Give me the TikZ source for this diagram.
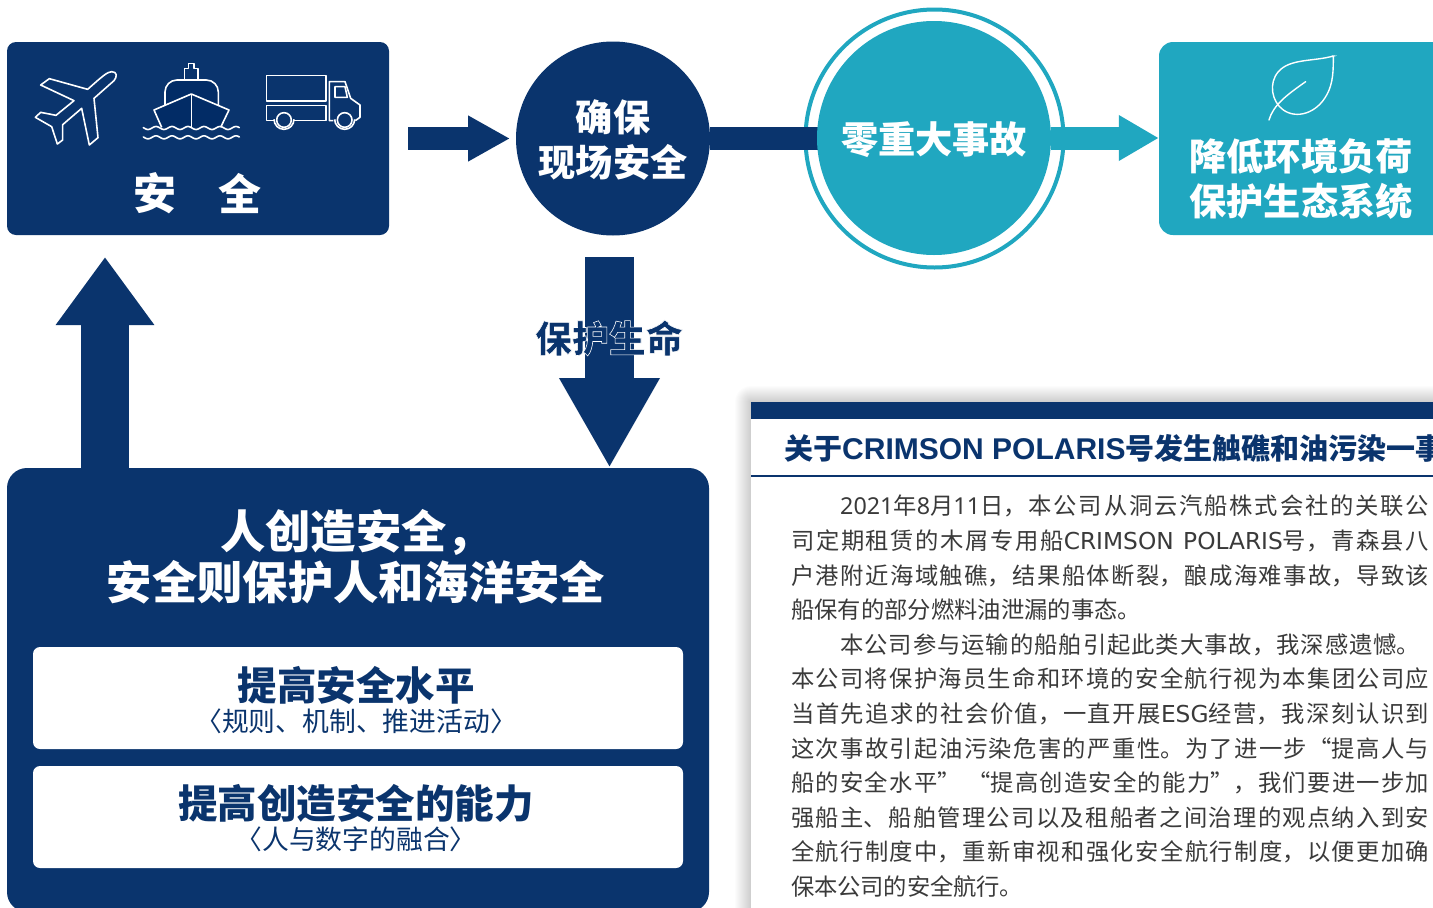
\documentclass[tikz,border=0pt]{standalone}
\usepackage{fontspec}
\setmainfont{Noto Sans CJK SC}
\newfontfamily\lat{Noto Sans}
\newfontfamily\wide{DejaVu Sans}
\newfontfamily\titlelat{Liberation Sans}
\newfontfamily\halofont{Noto Sans CJK SC}[BoldFeatures={FakeBold=1.6}]
\usetikzlibrary{arrows.meta}

\XeTeXlinebreaklocale "zh"
\XeTeXlinebreakskip=0pt plus 3pt minus 0.3pt

\definecolor{navyblue}{HTML}{0A346D}
\definecolor{darkhull}{HTML}{022C66}
\definecolor{teal}{HTML}{20A7C0}
\definecolor{bodygray}{HTML}{3A3A3A}

\newcommand{\bodyline}[2]{\parbox{#1pt}{\parfillskip=0pt #2}}

\tikzset{
    box/.style={rounded corners=#1,inner sep=0pt},
    whitebox/.style={fill=white,rounded corners=7pt,inner sep=0pt,minimum width=650,minimum height=102},
    headtext/.style={text=white,font=\bfseries\fontsize{37.2}{44.5}\selectfont,align=center,inner sep=0pt},
    bigtext/.style={font=\bfseries\fontsize{39.5}{44}\selectfont,text=navyblue,inner sep=0pt},
    subtext/.style={font=\fontsize{26.8}{30}\selectfont,text=navyblue,inner sep=0pt},
    icon/.style={draw=white,line width=1.6pt,line join=round},
}

\begin{document}
\begin{tikzpicture}[x=1pt,y=-1pt]
    \path[use as bounding box,clip] (0,0) rectangle (1433,908);
    \fill[white] (0,0) rectangle (1433,908);

    % boxes and circles
    \node[box=9pt,fill=navyblue,minimum width=382,minimum height=193] (safebox) at (198,138.5) {};
    \node[circle,fill=navyblue,minimum size=194,inner sep=0pt] (fieldcircle) at (613,138.5) {};
    \node[circle,draw=teal,line width=4pt,fill=white,minimum size=258,inner sep=0pt] (zeroring) at (934.5,138.5) {};
    \node[box=14pt,fill=teal,minimum width=300,minimum height=193] (ecobox) at (1309,138.5) {};
    \node[box=20pt,fill=navyblue,minimum width=702,minimum height=444] (peoplebox) at (358,690) {};

    \coordinate (safeout) at (408,138.5);
    \coordinate (fieldin) at (510,138.5);
    \coordinate (lifestart) at (609.5,257);
    \coordinate (lifeend) at (609.5,468);
    \coordinate (upstart) at (105,468);
    \coordinate (upend) at (105,257);

    % arrows
    \draw[navyblue,line width=23pt,-{Triangle[length=42pt,width=43pt]}] (safeout) -- (fieldin);
    \draw[navyblue,line width=23pt] (fieldcircle) -- (zeroring.center);
    \draw[navyblue,line width=49pt,-{Triangle[length=90pt,width=94pt]}] (lifestart) -- (lifeend);
    \draw[navyblue,line width=48pt,-{Triangle[length=68pt,width=94pt]}] (upstart) -- (upend);

    \node[circle,fill=teal,minimum size=234,inner sep=0pt] (zerocircle) at (934,138) {};
    \draw[teal,line width=23pt,-{Triangle[length=40pt,width=43pt]}] (zerocircle) -- (ecobox.west |- zerocircle);

    % plane
    \begin{scope}[shift={(0,30)},scale=1/3]
        \draw[icon] (263,178) -- (148,146) -- (122,165) -- (222,212) -- (168,256) -- (122,247) -- (106,262)
            -- (155,290) -- (172,342) -- (188,330) -- (188,284) -- (245,235) -- (268,345) -- (294,323) -- (282,205)
            -- (342,152) .. controls (352,140) and (352,125) .. (335,125) .. controls (322,126) and (310,136) .. cycle;
        % ship
        \draw[icon] (553,150) -- (553,115) -- (565,115) -- (565,100) -- (582,100) -- (582,115) -- (594,115) -- (594,150);
        \draw[icon,fill=darkhull,rounded corners=12pt] (495,225) -- (495,150) -- (655,150) -- (655,225);
        \draw[icon,fill=darkhull] (485,292) -- (462,240) -- (574,192) -- (687,240) -- (662,292);
        \draw[icon] (574,192) -- (574,295);
        \foreach \wavey in {294,322}
            \draw[icon,line cap=round] plot[domain=430:718,samples=90,smooth] (\x,{\wavey+4.5*sin(7.5*\x)});
        % truck
        \draw[icon] (800,137) rectangle (978,213);
        \draw[icon] (822,272) -- (800,272) -- (800,227) -- (978,227) -- (978,272) -- (882,272);
        \draw[icon] (1000,272) -- (988,272) -- (988,155) -- (1035,155) .. controls (1042,175) .. (1052,205)
            -- (1080,225) -- (1080,262) -- (1066,272);
        \draw[icon] (1005,170) -- (1035,170) -- (1042,202) -- (1005,202) -- cycle;
        \draw[icon] (852,270) circle (22);
        \draw[icon] (1034,270) circle (22);
        \draw[icon] (822,268) arc (180:0:30);
        \draw[icon] (1004,268) arc (180:0:30);
    \end{scope}

    % leaf
    \begin{scope}[shift={(1140,30)},scale=1/3]
        \draw[draw=white,line width=1.4pt,line join=miter]
            (580,78) .. controls (520,95) and (450,85) .. (415,125)
            .. controls (385,160) and (395,215) .. (430,240)
            .. controls (470,268) and (530,250) .. (560,195)
            .. controls (580,160) and (580,120) .. cycle;
        \draw[draw=white,line width=1.4pt,line cap=round] (497,155) .. controls (440,195) and (400,225) .. (387,270);
    \end{scope}

    % labels
    \node[text=white,font=\bfseries\fontsize{43}{50}\selectfont,inner sep=0pt] (safeleft) at (155,193) {安};
    \node[text=white,font=\bfseries\fontsize{43}{50}\selectfont,inner sep=0pt] (saferight) at (240,193) {全};
    \node[headtext] (fieldlabel) at (613,140) {确保\\现场安全};
    \node[headtext] (zerolabel) at (934,140) {零重大事故};
    \node[headtext] (ecolabel) at (1301,179) {降低环境负荷\\保护生态系统};
    \node[font=\halofont\bfseries\fontsize{37}{44}\selectfont,inner sep=0pt] (lifelabel) at (609,338) {\special{pdf:bcolor [0.04 0.204 0.427] [1 1 1]}保护生命\special{pdf:ecolor}};

    % people box
    \node[font=\bfseries\fontsize{45.3}{50.5}\selectfont,text=white,align=center,inner sep=0pt] (peoplelabel) at (356,557) {人创造安全，\\安全则保护人和海洋安全};
    \node[whitebox] (levelbox) at (358,698) {};
    \node[whitebox] (abilitybox) at (358,817) {};
    \node[bigtext] (levellabel) at (356,685) {提高安全水平};
    \node[subtext] (levelnote) at (356,721) {〈规则、机制、推进活动〉};
    \node[bigtext] (abilitylabel) at (356,803) {提高创造安全的能力};
    \node[subtext] (abilitynote) at (356,839) {〈人与数字的融合〉};

    % notice
    \foreach \r in {1,...,16}
        \fill[black,opacity=0.012,rounded corners=\r] (751-\r,402-\r) rectangle (1460,930);
    \fill[white] (751,402) rectangle (1433,908);
    \fill[navyblue] (751,402) rectangle (1433,419);
    \draw[navyblue,line width=2pt] (751,476) -- (1433,476);
    \node[anchor=west,text=navyblue,font=\bfseries\fontsize{29}{34}\selectfont,inner sep=0pt] (noticetitle) at (784,448) {关于{\titlelat\fontsize{30}{34}\selectfont CRIMSON POLARIS}号发生触礁和油污染一事};

    \foreach \i/\linex/\liney/\linewd/\linetext in {
        1/840/506/589/{\lat 2021}年{\lat 8}月{\lat 11}日，本公司从洞云汽船株式会社的关联公,
        2/791/541/638/司定期租赁的木屑专用船{\wide CRIMSON POLARIS}号，青森县八,
        3/791/576/638/户港附近海域触礁，结果船体断裂，酿成海难事故，导致该,
        4/791/610/350/船保有的部分燃料油泄漏的事态。,
        5/840/645/580/本公司参与运输的船舶引起此类大事故，我深感遗憾。,
        6/791/679/638/本公司将保护海员生命和环境的安全航行视为本集团公司应,
        7/791/714/638/当首先追求的社会价值，一直开展{\wide ESG}经营，我深刻认识到,
        8/791/749/638/这次事故引起油污染危害的严重性。为了进一步“提高人与,
        9/791/783/638/船的安全水平” “提高创造安全的能力”，我们要进一步加,
        10/791/818/638/强船主、船舶管理公司以及租船者之间治理的观点纳入到安,
        11/791/852/638/全航行制度中，重新审视和强化安全航行制度，以便更加确,
        12/791/887/232/保本公司的安全航行。}
        \node[anchor=west,text=bodygray,font=\fontsize{23.3}{28}\selectfont,inner sep=0pt] (bodyline\i) at (\linex,\liney) {\bodyline{\linewd}{\linetext}};
\end{tikzpicture}
\end{document}
